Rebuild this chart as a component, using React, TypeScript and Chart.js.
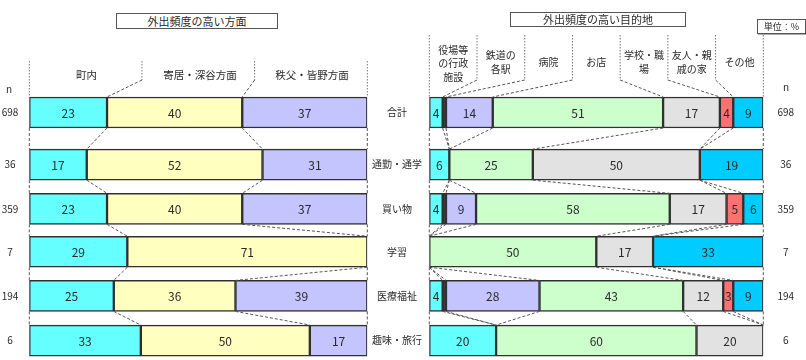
import React, { useEffect, useRef } from "react";
import { Chart, registerables } from "chart.js";

Chart.register(...registerables);

// ---------- data ----------
const ROWS = ["合計", "通勤・通学", "買い物", "学習", "医療福祉", "趣味・旅行"];
const N_VALUES = ["698", "36", "359", "7", "194", "6"];

const AREA_LABELS = ["町内", "寄居・深谷方面", "秩父・皆野方面"];
const AREA_TOWN = [23, 17, 23, 29, 25, 33];
const AREA_YORII = [40, 52, 40, 71, 36, 50];
const AREA_CHICHIBU = [37, 31, 37, 0, 39, 17];

const DEST_LABELS = [
  ["役場等", "の行政", "施設"],
  ["鉄道の", "各駅"],
  ["病院"],
  ["お店"],
  ["学校・職", "場"],
  ["友人・親", "戚の家"],
  ["その他"],
];
const DEST_OFFICE = [4, 6, 4, 0, 4, 20];
const DEST_STATION = [1, 0, 1, 0, 1, 0];
const DEST_HOSPITAL = [14, 0, 9, 0, 28, 0];
const DEST_SHOP = [51, 25, 58, 50, 43, 60];
const DEST_SCHOOL = [17, 50, 17, 17, 12, 20];
const DEST_FRIEND = [4, 0, 5, 0, 3, 0];
const DEST_OTHER = [9, 19, 6, 33, 9, 0];

// ---------- layout / style ----------
const ROW_POS = [0, 1.18, 2.18, 3.15, 4.15, 5.16];
const FONT = '"Noto Sans CJK JP", "Noto Sans", sans-serif';
const TEXT = "#2a2a2a";
const BAR_H = 31;

const toPoints = (vals: number[]) => vals.map((v, i) => ({ x: v, y: ROW_POS[i] }));

const barDs = (label: string, vals: number[], color: string) => ({
  label,
  data: toPoints(vals),
  backgroundColor: color,
  borderColor: "#303030",
  borderWidth: 1.5,
  borderSkipped: false,
  barThickness: BAR_H,
  stack: "s",
});

const valueLabels = {
  id: "valueLabels",
  afterDatasetsDraw(chart: any) {
    const ctx = chart.ctx;
    ctx.save();
    ctx.font = `12px ${FONT}`;
    ctx.fillStyle = TEXT;
    ctx.textAlign = "center";
    ctx.textBaseline = "middle";
    chart.data.datasets.forEach((ds: any, di: number) => {
      const meta = chart.getDatasetMeta(di);
      meta.data.forEach((el: any, i: number) => {
        const v = ds.data[i].x;
        if (v < 2) return;
        const p = el.getCenterPoint();
        ctx.fillText(String(v), p.x, p.y + 1);
      });
    });
    ctx.restore();
  },
};

const connectors = {
  id: "connectors",
  afterDatasetsDraw(chart: any, _args: any, opts: any) {
    const ctx = chart.ctx;
    const xs = chart.scales.x;
    const ys = chart.scales.y;
    const datasets = chart.data.datasets;
    const nRows = ROW_POS.length;
    const cum: number[][] = [];
    for (let r = 0; r < nRows; r++) {
      const c = [0];
      let s = 0;
      datasets.forEach((ds: any) => {
        s += ds.data[r].x;
        c.push(s);
      });
      cum.push(c);
    }
    ctx.save();
    ctx.strokeStyle = "#555";
    ctx.lineWidth = 1;
    ctx.setLineDash([3, 2]);
    for (let r = 0; r < nRows - 1; r++) {
      const yb = ys.getPixelForValue(ROW_POS[r]) + BAR_H / 2;
      const yt = ys.getPixelForValue(ROW_POS[r + 1]) - BAR_H / 2;
      for (let k = 0; k <= datasets.length; k++) {
        ctx.beginPath();
        ctx.moveTo(xs.getPixelForValue(cum[r][k]), yb);
        ctx.lineTo(xs.getPixelForValue(cum[r + 1][k]), yt);
        ctx.stroke();
      }
    }
    const nCols = datasets.length;
    const area = chart.chartArea;
    const yTop0 = ys.getPixelForValue(ROW_POS[0]) - BAR_H / 2;
    for (let j = 0; j <= nCols; j++) {
      const sx = area.left + (j * (area.right - area.left)) / nCols;
      const tx = xs.getPixelForValue(cum[0][j]);
      const edge = j === 0 || j === nCols;
      ctx.strokeStyle = "#777";
      ctx.setLineDash([1.5, 1.5]);
      ctx.beginPath();
      ctx.moveTo(sx, opts.sepTop);
      ctx.lineTo(sx, edge ? yTop0 : opts.sepBend);
      ctx.stroke();
      if (!edge) {
        ctx.strokeStyle = "#555";
        ctx.setLineDash([3, 2]);
        ctx.beginPath();
        ctx.moveTo(sx, opts.sepBend);
        ctx.lineTo(tx, yTop0);
        ctx.stroke();
      }
    }
    ctx.restore();
  },
};

const yAxis = (labels: string[], width: number, padding: number, position: string) => ({
  type: "linear",
  position,
  min: -0.45,
  max: 5.55,
  reverse: true,
  offset: false,
  grid: { display: false, drawTicks: false, offset: false },
  border: { display: false },
  afterFit: (s: any) => {
    s.width = width;
    s.paddingTop = 0;
    s.paddingBottom = 0;
  },
  afterBuildTicks: (s: any) => {
    s.ticks = ROW_POS.map((v) => ({ value: v }));
  },
  ticks: {
    autoSkip: false,
    crossAlign: "center",
    padding,
    color: TEXT,
    font: { family: FONT, size: 10 },
    callback: (_v: any, i: number) => labels[i],
  },
});

const xAxis = { type: "linear", min: 0, max: 100, stacked: true, display: false };

function useChart(ref: React.RefObject<HTMLCanvasElement>, make: () => any) {
  useEffect(() => {
    if (!ref.current) return;
    const chart = new Chart(ref.current, make());
    return () => chart.destroy();
  }, []);
}

const baseOptions = {
  responsive: false,
  animation: false,
  indexAxis: "y",
  plugins: { legend: { display: false }, tooltip: { enabled: false } },
};

export default function App() {
  const leftRef = useRef<HTMLCanvasElement>(null);
  const rightRef = useRef<HTMLCanvasElement>(null);

  useChart(leftRef, () => ({
    type: "bar",
    data: {
      datasets: [
        barDs(AREA_LABELS[0], AREA_TOWN, "#66FFFF"),
        barDs(AREA_LABELS[1], AREA_YORII, "#FFFFC0"),
        barDs(AREA_LABELS[2], AREA_CHICHIBU, "#C4C4FF"),
      ],
    },
    options: {
      ...baseOptions,
      layout: { padding: { top: 92.6, bottom: 2.2, left: 0, right: 4.7 } },
      scales: { x: xAxis, y: yAxis(N_VALUES, 29.3, 11, "left") },
      plugins: { ...baseOptions.plugins, connectors: { sepTop: 61, sepBend: 80 } },
    },
    plugins: [connectors, valueLabels],
  }));

  useChart(rightRef, () => ({
    type: "bar",
    data: {
      datasets: [
        barDs(DEST_LABELS[0].join(""), DEST_OFFICE, "#66FFFF"),
        barDs(DEST_LABELS[1].join(""), DEST_STATION, "#333333"),
        barDs(DEST_LABELS[2].join(""), DEST_HOSPITAL, "#C4C4FF"),
        barDs(DEST_LABELS[3].join(""), DEST_SHOP, "#CCFFCC"),
        barDs(DEST_LABELS[4].join(""), DEST_SCHOOL, "#E2E2E2"),
        barDs(DEST_LABELS[5].join(""), DEST_FRIEND, "#FF7070"),
        barDs(DEST_LABELS[6].join(""), DEST_OTHER, "#00CCFF"),
      ],
    },
    options: {
      ...baseOptions,
      layout: { padding: { top: 92.6, bottom: 2.2, left: 0, right: 0 } },
      scales: {
        x: xAxis,
        y: yAxis(ROWS, 59.3, 7.3, "left"),
        y2: yAxis(N_VALUES, 42.7, 14.2, "right"),
      },
      plugins: { ...baseOptions.plugins, connectors: { sepTop: 35, sepBend: 80 } },
    },
    plugins: [connectors, valueLabels],
  }));

  const txt = (s: string, x: number, y: number, size = 10, key?: any) => (
    <div
      key={key}
      style={{
        position: "absolute",
        left: x - 60,
        top: y - 8,
        width: 120,
        height: 16,
        lineHeight: "16px",
        textAlign: "center",
        fontSize: size,
        fontFamily: FONT,
        color: TEXT,
        whiteSpace: "nowrap",
      }}
    >
      {s}
    </div>
  );

  const box = (s: string, x: number, y: number, w: number, h: number, size: number, shadow = false) => (
    <div
      style={{
        position: "absolute",
        left: x,
        top: y,
        width: w,
        height: h,
        boxSizing: "border-box",
        border: "1px solid #555",
        background: "#fff",
        textAlign: "center",
        lineHeight: `${h - 2}px`,
        fontSize: size,
        fontFamily: FONT,
        color: TEXT,
        whiteSpace: "nowrap",
        boxShadow: shadow ? "1px 1px 0 #aaa" : "none",
      }}
    >
      {s}
    </div>
  );

  const areaCenters = [86.5, 200, 312];
  const destStart = 429.3;
  const destW = (763.3 - 429.3) / 7;

  return (
    <div
      style={{
        position: "absolute",
        left: 0,
        top: 0,
        width: 806,
        height: 360,
        overflow: "hidden",
        background: "#fff",
      }}
    >
      <canvas ref={leftRef} width={372} height={360} style={{ position: "absolute", left: 0, top: 0 }} />
      <canvas ref={rightRef} width={436} height={360} style={{ position: "absolute", left: 370, top: 0 }} />
      {box("外出頻度の高い方面", 116, 13, 162, 16, 11)}
      {box("外出頻度の高い目的地", 510, 12, 176, 15, 11)}
      {box("単位：%", 757, 19, 49, 15, 9, true)}
      {txt("n", 9, 89)}
      {txt("n", 786, 87)}
      {AREA_LABELS.map((l, i) => txt(l, areaCenters[i], 75, 10.5, "a" + i))}
      {DEST_LABELS.map((lines, j) => {
        const cx = destStart + (j + 0.5) * destW;
        const y0 = lines.length === 3 ? 49.5 : lines.length === 2 ? 55 : 62;
        return lines.map((l, k) => txt(l, cx, y0 + k * 13.5, 10, `d${j}-${k}`));
      })}
    </div>
  );
}
